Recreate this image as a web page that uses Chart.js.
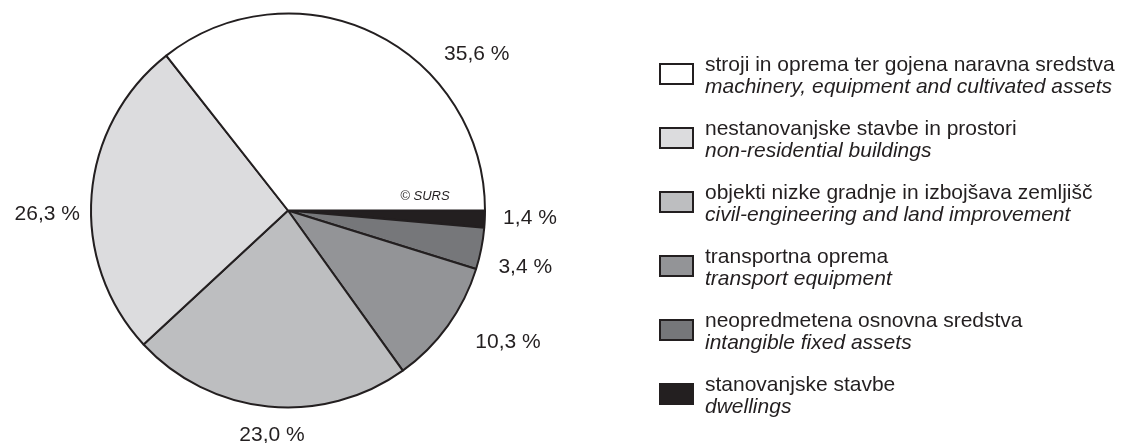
<!DOCTYPE html>
<html>
<head>
<meta charset="utf-8">
<script src="https://cdn.jsdelivr.net/npm/chart.js@4.4.0/dist/chart.umd.min.js"></script>
<style>
  body { margin: 0; background: #fff; }
  #wrap { position: relative; width: 1128px; height: 443px; overflow: hidden; }
  #chart { position: absolute; left: 0; top: 0; }
  .item { position: absolute; left: 659px; width: 470px; height: 50px; }
  .box { position: absolute; left: 0; top: 10px; width: 35px; height: 22px; border: 2px solid #231f20; box-sizing: border-box; }
  .txt { position: absolute; left: 46px; top: 0; font-family: 'Liberation Sans', Arial, Helvetica, sans-serif; font-size: 21px; line-height: 22px; color: #231f20; white-space: nowrap; }
  .txt i { display: block; }
</style>
</head>
<body>
<div id="wrap">
  <canvas id="chart" width="1128" height="443"></canvas>
  <div id="legend"></div>
</div>
<script>
// kategorije in deleži (v %)
const labelsSl = [
  'stroji in oprema ter gojena naravna sredstva',
  'nestanovanjske stavbe in prostori',
  'objekti nizke gradnje in izbojšava zemljišč',
  'transportna oprema',
  'neopredmetena osnovna sredstva',
  'stanovanjske stavbe'
];
const labelsEn = [
  'machinery, equipment and cultivated assets',
  'non-residential buildings',
  'civil-engineering and land improvement',
  'transport equipment',
  'intangible fixed assets',
  'dwellings'
];
const shares = [35.6, 26.3, 23.0, 10.3, 3.4, 1.4];
const colors = ['#ffffff', '#dcdcde', '#bdbec0', '#939497', '#76777a', '#231f20'];

const fmt = v => v.toFixed(1).replace('.', ',') + ' %';

// legenda (HTML)
let legend = document.getElementById('legend');
for (let i = 0; i < labelsSl.length; i++) {
  let d = document.createElement('div');
  d.className = 'item';
  d.style.top = (53 + i * 64) + 'px';
  d.innerHTML = `<div class="box" style="background:${colors[i]}"></div>` +
    `<div class="txt">${labelsSl[i]}<i>${labelsEn[i]}</i></div>`;
  legend.appendChild(d);
}

// pie gre v nasprotni smeri urinega kazalca od vzhoda -> obrnemo vrstni red
const dataRev = shares.slice().reverse();
const colorsRev = colors.slice().reverse();
const labelsRev = labelsSl.slice().reverse();

// ročni popravki položaja oznak (stopinje, px) -- v vrstnem redu shares
const nudgeAngle = [24.4, -5.5, -1.7, -5, 2.3, -0.7];
const nudgeDist = [0, -7, 0, 9, 1, 0];

const pctLabels = {
  id: 'pctLabels',
  afterDatasetsDraw(chart) {
    const ctx = chart.ctx;
    const arcs = chart.getDatasetMeta(0).data;
    const n = arcs.length;
    ctx.save();
    ctx.fillStyle = '#231f20';
    ctx.font = "21px 'Liberation Sans', Arial, sans-serif";
    ctx.textAlign = 'center';
    ctx.textBaseline = 'middle';
    arcs.forEach((arc, i) => {
      const k = n - 1 - i;
      const v = dataRev[i];
      let mid = (arc.startAngle + arc.endAngle) / 2 + nudgeAngle[k] * Math.PI / 180;
      const text = fmt(v);
      const hw = ctx.measureText(text).width / 2;
      const dist = arc.outerRadius + 18 + Math.abs(Math.cos(mid)) * hw + Math.abs(Math.sin(mid)) * 8 + nudgeDist[k];
      ctx.fillText(text, arc.x + Math.cos(mid) * dist, arc.y + Math.sin(mid) * dist);
    });
    ctx.font = "italic 13px 'Liberation Sans', Arial, sans-serif";
    ctx.fillText('© SURS', 425, 196);
    ctx.restore();
  }
};

const ctx = document.getElementById('chart').getContext('2d');
const chart = new Chart(ctx, {
  type: 'pie',
  data: {
    labels: labelsRev,
    datasets: [{
      data: dataRev,
      backgroundColor: colorsRev,
      borderColor: '#231f20',
      borderWidth: 2,
      hoverOffset: 0
    }]
  },
  options: {
    responsive: false,
    animation: false,
    events: [],
    rotation: 90,
    layout: { padding: { left: 90, right: 642, top: 12, bottom: 34 } },
    plugins: {
      legend: { display: false },
      tooltip: { enabled: false }
    }
  },
  plugins: [pctLabels]
});
</script>
</body>
</html>
